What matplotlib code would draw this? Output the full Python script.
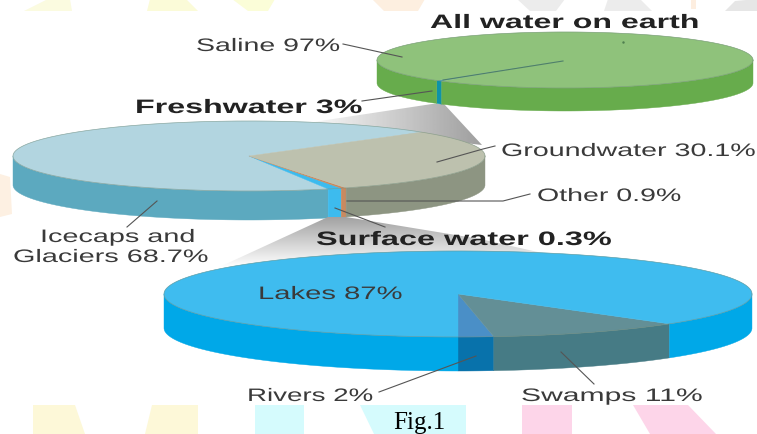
import numpy as np
import matplotlib
matplotlib.use('Agg')
import matplotlib.pyplot as plt
import matplotlib.patheffects as pe
from matplotlib.patches import Polygon
from matplotlib.transforms import Affine2D

# labels and shares printed on the picture
earth_names = ['Saline', 'Freshwater']
earth_shares = [97, 3]
fresh_names = ['Icecaps and\nGlaciers', 'Surface water', 'Other', 'Groundwater']
fresh_shares = [68.7, 0.3, 0.9, 30.1]
surface_names = ['Rivers', 'Swamps', 'Lakes']
surface_shares = [2, 11, 87]

# slice widths as drawn, in degrees (the drawing is not to scale)
earth_spans = [2, 358]
fresh_spans = [246.6, 3.4, 1.3, 108.7]
surface_spans = [7, 39, 314]

earth_top = ['#4f9fbb', '#8fc27b']
earth_side = ['#0e93a8', '#67ac4c']
fresh_top = ['#b2d5e0', '#3dbbee', '#c88a60', '#bdc1ae']
fresh_side = ['#5ca9bf', '#3dbbee', '#c88a60', '#8d9582']
surface_top = ['#4a8fc7', '#638f96', '#3fbcef']
surface_side = ['#0872ab', '#467b85', '#00a8e8']

fig = plt.figure(figsize=(7.57, 4.35), dpi=100)
ax = fig.add_axes([0, 0, 1, 1])
ax.set_xlim(0, 757)
ax.set_ylim(435, 0)
ax.axis('off')


class Stretch(pe.AbstractPathEffect):
    # the source image is squeezed, its lettering is much wider than tall
    def __init__(self, sx):
        super().__init__()
        self.sx = sx

    def draw_path(self, renderer, gc, tpath, affine, rgbFace=None):
        renderer.draw_path(gc, tpath, Affine2D().scale(self.sx, 1) + affine, rgbFace)


def label(x0, x1, y, s, **kw):
    t = ax.text(x0, y + 2.5, s, va='center', zorder=9, **kw)
    w = t.get_window_extent(fig.canvas.get_renderer()).width
    t.set_path_effects([Stretch((x1 - x0) / w)])
    return t


def draw_pie(spans, tops, sides, start, cx, cy, rx, ry, depth, z):
    a0 = start
    for span, top, side in zip(spans, tops, sides):
        a1 = a0 + span
        t = np.radians(np.linspace(a0, a1, 400))
        x = cx + rx * np.cos(t)
        y = cy - ry * np.sin(t)
        # side wall only where the rim faces the viewer, one run per front stretch
        front = np.sin(t) <= 0
        edges = np.flatnonzero(np.diff(np.r_[0, front.astype(int), 0]))
        for i0, i1 in zip(edges[::2], edges[1::2]):
            xf, yf = x[i0:i1], y[i0:i1]
            xs = np.r_[xf, xf[::-1]]
            ys = np.r_[yf, yf[::-1] + depth]
            ax.add_patch(Polygon(np.c_[xs, ys], fc=side, ec=side, lw=0.3, zorder=z))
        ax.add_patch(Polygon(np.c_[np.r_[cx, x], np.r_[cy, y]], fc=top, ec=top, lw=0.3, zorder=z + 0.1))
        a0 = a1
    # thin outline of the top rim
    t = np.linspace(0, 2 * np.pi, 400)
    ax.plot(cx + rx * np.cos(t), cy - ry * np.sin(t), color='#6f8a78', lw=0.5, alpha=0.6, zorder=z + 0.2)


def gradient(points, extent, img, z):
    im = ax.imshow(img, cmap='gray', vmin=0, vmax=1, extent=extent, aspect='auto', zorder=z)
    clip = Polygon(points, transform=ax.transData, fc='none', ec='none')
    ax.add_patch(clip)
    im.set_clip_path(clip)
    ax.set_xlim(0, 757)
    ax.set_ylim(435, 0)


# watermark pieces showing above and below the white box
for pts, c in [
    ([(24, 12), (48, 0), (70, 0), (72, 12)], '#fbfbe0'),
    ([(147, 12), (150, 0), (186, 0), (198, 12)], '#fbfbd8'),
    ([(232, 0), (275, 0), (268, 12), (248, 12)], '#fbfdd8'),
    ([(372, 0), (425, 0), (418, 12), (384, 12)], '#fdefe0'),
    ([(517, 0), (565, 0), (556, 12), (530, 12)], '#ececec'),
    ([(604, 12), (608, 0), (640, 0), (652, 12)], '#ececec'),
    ([(691, 0), (696, 0), (696, 10), (691, 10)], '#fdeee0'),
    ([(725, 12), (735, 2), (757, 0), (757, 12)], '#e6e6e6'),
    ([(33, 406), (75, 406), (85, 435), (33, 435)], '#fdf8d8'),
    ([(152, 406), (198, 406), (198, 435), (145, 435)], '#fdf8d8'),
    ([(255, 406), (304, 406), (304, 435), (255, 435)], '#d5fbfd'),
    ([(360, 406), (466, 406), (466, 435), (374, 435)], '#d5fbfd'),
    ([(522, 406), (572, 406), (572, 435), (522, 435)], '#fdd5e9'),
    ([(633, 406), (688, 406), (716, 435), (650, 435)], '#fdd5e9'),
    ([(0, 175), (10, 178), (12, 215), (0, 218)], '#fdf0e2'),
]:
    ax.add_patch(Polygon(pts, fc=c, ec='none', zorder=0))

# callout fans, first one darkens to the right, second one fades downward
gradient([(432, 105), (444, 105), (482, 146), (300, 125)], [300, 482, 150, 105],
         np.linspace(1, 0.62, 128).reshape(1, -1), 1)
gradient([(328, 218), (346, 218), (480, 240), (560, 258), (215, 270)], [200, 570, 268, 216],
         np.linspace(0.62, 1, 128).reshape(-1, 1), 3)

draw_pie(earth_spans, earth_top, earth_side, 227, 565, 61, 188, 28, 23, 6)
draw_pie(fresh_spans, fresh_top, fresh_side, 43, 249, 157, 236, 35, 29, 2)
draw_pie(surface_spans, surface_top, surface_side, 270, 458, 295, 294, 43, 34, 4)

# leader lines
line_kw = dict(color='#555555', lw=0.8, zorder=8)
ax.plot([343, 402], [45, 58], **line_kw)
ax.plot([362, 432], [102, 92], **line_kw)
ax.plot([437, 483, 495], [163, 150, 147], **line_kw)
ax.plot([347, 503, 530], [202, 202, 195], **line_kw)
ax.plot([157, 127], [202, 228], **line_kw)
ax.plot([335, 385], [209, 228], **line_kw)
ax.plot([476, 379], [357, 393], **line_kw)
ax.plot([561, 594], [353, 385], **line_kw)
ax.plot([443, 563], [81, 62], color='#4f7f6a', lw=0.8, zorder=8)
ax.plot([623], [43], '.', color='#4f7f4f', ms=1.5, zorder=8)

# texts
plain = dict(family='Liberation Sans', fontsize=13, color='#3a3a3a')
bold = dict(family='Liberation Sans', fontsize=14, weight='bold', color='#222222')

label(430, 700, 22, 'All water on earth', **bold)
label(135, 363, 107, f'{earth_names[1]} {earth_shares[1]}%', **bold)
label(316, 613, 239, f'{fresh_names[1]} {fresh_shares[1]}%', **bold)

label(196, 340, 45, f'{earth_names[0]} {earth_shares[0]}%', **plain)
label(501, 755, 150, f'{fresh_names[3]} {fresh_shares[3]}%', **plain)
label(537, 681, 195, f'{fresh_names[2]} {fresh_shares[2]}%', **plain)
ice_line1, ice_line2 = fresh_names[0].split('\n')
label(40, 195, 236, ice_line1, **plain)
label(13, 208, 256, f'{ice_line2} {fresh_shares[0]}%', **plain)
label(258, 402, 293, f'{surface_names[2]} {surface_shares[2]}%', **plain)
label(247, 373, 395, f'{surface_names[0]} {surface_shares[0]}%', **plain)
label(521, 702, 395, f'{surface_names[1]} {surface_shares[1]}%', **plain)

ax.text(419, 423, 'Fig.1', family='Liberation Serif', fontsize=18, color='black', ha='center', va='center', zorder=9)

fig.savefig('out.png', dpi=100)
